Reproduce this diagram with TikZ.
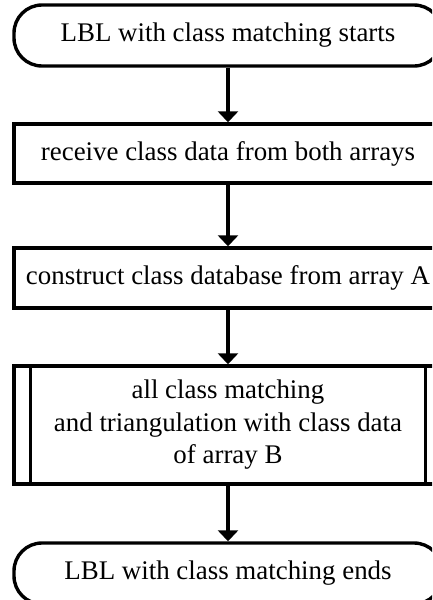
\documentclass[tikz,border=0pt]{standalone}
\usepackage{fontspec}
\setmainfont{Liberation Serif}
\usetikzlibrary{arrows.meta}
\begin{document}
\begin{tikzpicture}[x=1pt,y=-1pt,
  box/.style={draw, line width=3.4pt, minimum width=428pt, minimum height=59pt,
    inner sep=0pt, align=center, font=\fontsize{26.9}{32.5}\selectfont},
  term/.style={box, rounded corners=28pt},
  flow/.style={line width=3.4pt, -{Triangle[width=20pt,length=11pt]}},
  edge/.style={line width=3.4pt}]
\useasboundingbox (0,0) rectangle (432,600);
\clip (0,0) rectangle (432,600);
% flowchart steps
\node[term, minimum height=61pt] (start) at (228,35.5) {LBL with class matching starts};
\node[box] (recv) at (228,153.5) {receive class data from both arrays};
\node[box, minimum height=60pt] (build) at (228,278) {construct class database from array A};
\node[box, minimum height=118pt] (match) at (228,425)
  {all class matching\\and triangulation with class data\\of array B};
\draw[edge] ([xshift=18pt]match.north west) -- ([xshift=18pt]match.south west);
\draw[edge] ([xshift=-18pt]match.north east) -- ([xshift=-18pt]match.south east);
\node[term, minimum height=61pt] (stop) at (228,573.5) {LBL with class matching ends};
% connectors
\draw[flow] (start) -- (recv);
\draw[flow] (recv) -- (build);
\draw[flow] (build) -- (match);
\draw[flow] (match) -- (stop);
\end{tikzpicture}
\end{document}
